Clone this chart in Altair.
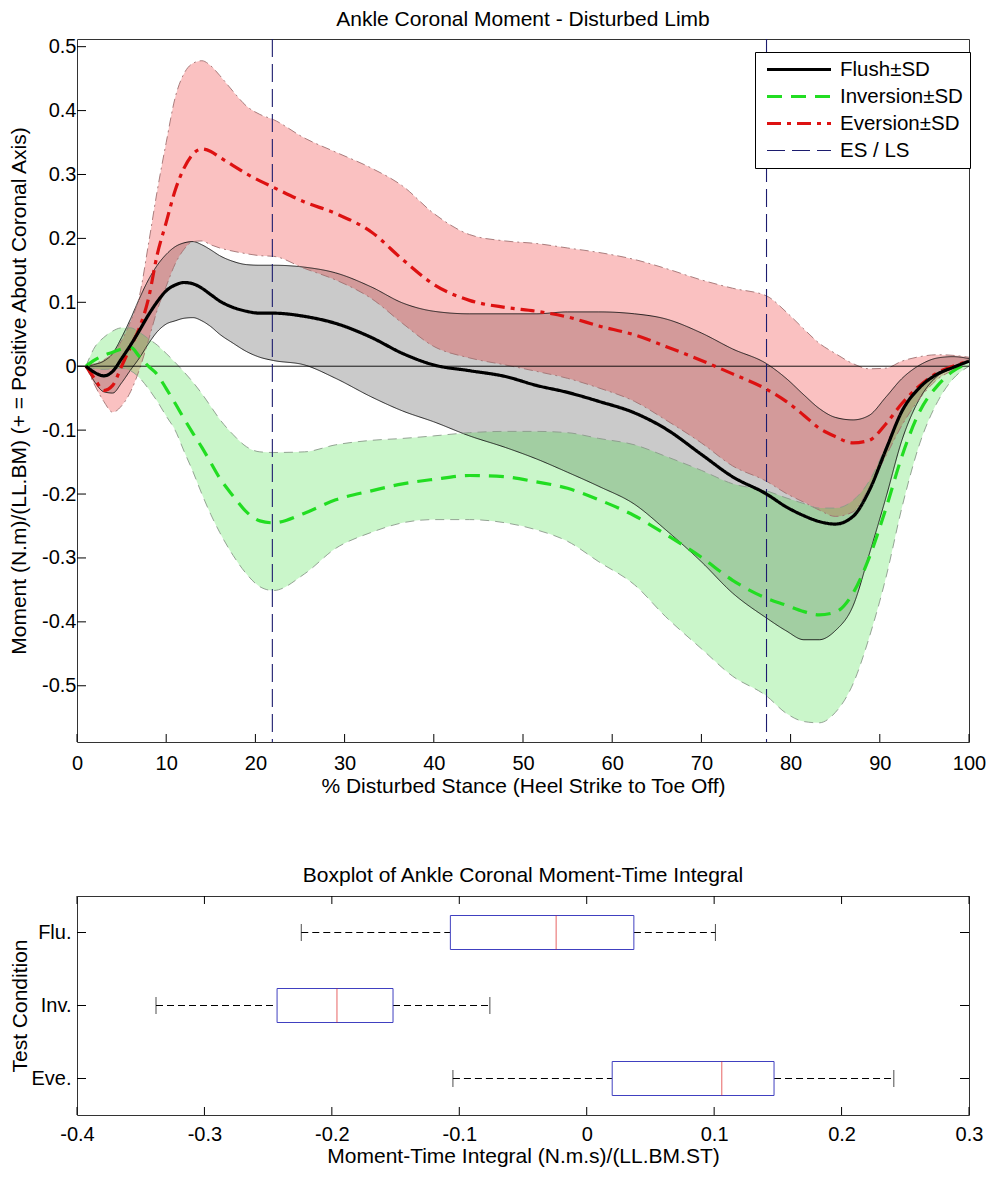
import altair as alt
import pandas as pd

FONT = "Liberation Sans, Arial, sans-serif"

# ---------------- top panel data ----------------
X = [1, 2, 3, 4, 5, 6, 7, 8, 9, 10, 11, 12, 13, 14, 15, 16, 17.5, 19, 20.5, 22,
     25.5, 29, 33, 36.5, 40, 44, 48, 51.5, 55, 58.5, 62.5, 66, 70, 73.5, 77.3,
     79.5, 81.5, 83.2, 85, 87, 88.8, 90.7, 92.5, 94.5, 96.5, 98.2, 100]

FLUSH_MEAN = [0.0, -0.010, -0.015, -0.008, 0.012, 0.033, 0.056, 0.080, 0.101, 0.118, 0.127, 0.131, 0.129, 0.122, 0.112, 0.102, 0.092, 0.086, 0.083, 0.083,
              0.078, 0.067, 0.045, 0.020, 0.002, -0.007, -0.016, -0.030, -0.041, -0.055, -0.073, -0.098, -0.138, -0.173, -0.200,
              -0.220, -0.234, -0.243, -0.247, -0.235, -0.195, -0.130, -0.070, -0.033, -0.012, -0.002, 0.008]
FLUSH_HI = [0.0, 0.003, 0.008, 0.020, 0.045, 0.074, 0.106, 0.135, 0.158, 0.175, 0.187, 0.193, 0.195, 0.190, 0.182, 0.173, 0.164, 0.159, 0.158, 0.158,
            0.155, 0.146, 0.124, 0.099, 0.086, 0.082, 0.082, 0.082, 0.085, 0.085, 0.082, 0.074, 0.052, 0.027, 0.004,
            -0.019, -0.045, -0.066, -0.080, -0.084, -0.077, -0.048, -0.019, 0.002, 0.013, 0.015, 0.012]
FLUSH_LO = [0.0, -0.025, -0.040, -0.042, -0.026, -0.006, 0.013, 0.035, 0.054, 0.066, 0.071, 0.075, 0.076, 0.071, 0.062, 0.050, 0.036, 0.023, 0.014, 0.009,
            0.002, -0.019, -0.048, -0.070, -0.087, -0.109, -0.127, -0.145, -0.166, -0.188, -0.216, -0.256, -0.306, -0.355, -0.394,
            -0.414, -0.428, -0.428, -0.414, -0.375, -0.295, -0.205, -0.115, -0.050, -0.015, -0.003, 0.008]

INV_MEAN = [0.0, 0.010, 0.017, 0.022, 0.027, 0.030, 0.015, 0.000, -0.013, -0.035, -0.058, -0.082, -0.105, -0.127, -0.151, -0.175, -0.203, -0.228, -0.242, -0.245,
            -0.230, -0.209, -0.195, -0.184, -0.177, -0.171, -0.173, -0.181, -0.191, -0.209, -0.234, -0.263, -0.299, -0.335, -0.363,
            -0.374, -0.384, -0.389, -0.385, -0.355, -0.300, -0.222, -0.140, -0.070, -0.030, -0.008, 0.005]
INV_HI = [0.0, 0.030, 0.045, 0.055, 0.060, 0.060, 0.053, 0.043, 0.033, 0.020, 0.006, -0.009, -0.025, -0.043, -0.063, -0.083, -0.107, -0.126, -0.134, -0.135,
          -0.134, -0.123, -0.116, -0.113, -0.109, -0.104, -0.102, -0.102, -0.104, -0.113, -0.123, -0.141, -0.163, -0.184, -0.195,
          -0.206, -0.215, -0.222, -0.222, -0.210, -0.180, -0.125, -0.070, -0.030, -0.010, -0.002, 0.008]
INV_LO = [0.0, -0.004, -0.005, -0.004, -0.003, -0.007, -0.018, -0.035, -0.055, -0.078, -0.100, -0.133, -0.165, -0.200, -0.232, -0.260, -0.296, -0.325, -0.345, -0.351,
          -0.325, -0.285, -0.260, -0.245, -0.240, -0.240, -0.245, -0.256, -0.274, -0.306, -0.342, -0.392, -0.442, -0.485, -0.516,
          -0.543, -0.556, -0.558, -0.542, -0.497, -0.425, -0.330, -0.220, -0.120, -0.055, -0.020, 0.000]

EVE_MEAN = [0.0, -0.020, -0.038, -0.030, 0.000, 0.030, 0.060, 0.105, 0.175, 0.225, 0.275, 0.310, 0.332, 0.340, 0.336, 0.327, 0.314, 0.301, 0.290, 0.280,
            0.257, 0.239, 0.210, 0.167, 0.128, 0.103, 0.092, 0.086, 0.077, 0.063, 0.049, 0.031, 0.009, -0.012, -0.036,
            -0.055, -0.077, -0.097, -0.110, -0.120, -0.116, -0.090, -0.058, -0.030, -0.010, 0.000, 0.008]
EVE_HI = [0.0, 0.004, 0.010, 0.020, 0.040, 0.070, 0.110, 0.190, 0.275, 0.350, 0.420, 0.458, 0.474, 0.478, 0.470, 0.455, 0.430, 0.407, 0.394, 0.386,
          0.357, 0.335, 0.310, 0.282, 0.239, 0.206, 0.196, 0.192, 0.185, 0.178, 0.167, 0.153, 0.135, 0.122, 0.110,
          0.085, 0.058, 0.036, 0.020, 0.004, -0.004, -0.003, 0.008, 0.015, 0.018, 0.017, 0.014]
EVE_LO = [0.0, -0.030, -0.055, -0.072, -0.062, -0.040, -0.005, 0.040, 0.088, 0.125, 0.160, 0.183, 0.195, 0.196, 0.190, 0.185, 0.180, 0.176, 0.173, 0.172,
          0.153, 0.135, 0.106, 0.067, 0.031, 0.013, 0.002, -0.008, -0.019, -0.034, -0.055, -0.084, -0.120, -0.156, -0.180,
          -0.199, -0.213, -0.225, -0.235, -0.228, -0.190, -0.140, -0.092, -0.050, -0.020, -0.006, 0.010]

SERIES = ["Flush±SD", "Inversion±SD", "Eversion±SD", "ES / LS"]
ES_LS = [21.9, 77.3]
Y_TICKS = [-0.5, -0.4, -0.3, -0.2, -0.1, 0.0, 0.1, 0.2, 0.3, 0.4, 0.5]
X_TICKS = [0, 10, 20, 30, 40, 50, 60, 70, 80, 90, 100]

# ---------------- bottom panel data ----------------
CATS = ["Flu.", "Inv.", "Eve."]
WLO = [-0.224, -0.338, -0.105]
Q1 = [-0.107, -0.243, 0.020]
MED = [-0.024, -0.196, 0.106]
Q3 = [0.037, -0.152, 0.147]
WHI = [0.101, -0.076, 0.241]
BX_TICKS = [-0.4, -0.3, -0.2, -0.1, 0.0, 0.1, 0.2, 0.3]

W, H = 892, 703
HB = 219

LBL = ("abs(datum.value) < 1e-9 ? '0' : (datum.value < 0 ? '-' + format(-datum.value, '.1f') "
       ": format(datum.value, '.1f'))")


def band_df(name, mean, lo, hi):
    return pd.DataFrame({"x": X, "mean": mean, "lo": lo, "hi": hi, "series": name})


flush = band_df(SERIES[0], FLUSH_MEAN, FLUSH_LO, FLUSH_HI)
inv = band_df(SERIES[1], INV_MEAN, INV_LO, INV_HI)
eve = band_df(SERIES[2], EVE_MEAN, EVE_LO, EVE_HI)

xs = alt.Scale(domain=[0, 100], nice=False, zero=False)
ys = alt.Scale(domain=[-0.588, 0.512], nice=False, zero=False)

x_axis = alt.Axis(values=X_TICKS, title="% Disturbed Stance (Heel Strike to Toe Off)", ticks=False, tickSize=0,
                  domain=False, labelPadding=11, format="d", labelFlush=False, labelOverlap=False, titlePadding=2)
y_axis = alt.Axis(values=Y_TICKS, title="Moment (N.m)/(LL.BM) (+ = Positive About Coronal Axis)", ticks=False,
                  tickSize=0, domain=False, labelPadding=1, labelExpr=LBL, labelFlush=False, labelOverlap=False,
                  titlePadding=12)


def XE(field):
    return alt.X(field, scale=xs, axis=x_axis)


def YE(field):
    return alt.Y(field, scale=ys, axis=y_axis)


band_style = {
    SERIES[0]: dict(fill="#808080", op=0.42, edge="#111111", dash=[1, 0]),
    SERIES[1]: dict(fill="#33dd33", op=0.26, edge="#8a9a8a", dash=[9, 6]),
    SERIES[2]: dict(fill="#ee2222", op=0.28, edge="#a07272", dash=[9, 4, 2, 4]),
}

layers = []
for df in (flush, eve, inv):
    st = band_style[df["series"].iloc[0]]
    layers.append(
        alt.Chart(df).mark_area(color=st["fill"], opacity=st["op"], interpolate="monotone").encode(
            x=XE("x:Q"), y=YE("lo:Q"), y2="hi:Q",
        )
    )

for df in (flush, eve, inv):
    st = band_style[df["series"].iloc[0]]
    layers.append(
        alt.Chart(df).transform_fold(["lo", "hi"], as_=["edge", "v"]).mark_line(
            color=st["edge"], strokeWidth=0.9, strokeDash=st["dash"], interpolate="monotone"
        ).encode(x=XE("x:Q"), y=YE("v:Q"), detail="edge:N")
    )

zero = alt.Chart(pd.DataFrame({"z": [0.0]})).mark_rule(color="black", strokeWidth=0.9).encode(y=YE("z:Q"))
layers.append(zero)

color_scale = alt.Scale(domain=SERIES, range=["#000000", "#22dd22", "#dd1111", "#1c1c6e"])
dash_scale = alt.Scale(domain=SERIES, range=[[1, 0], [15, 9], [14, 6, 4, 6], [18, 7]])
width_scale = alt.Scale(type="ordinal", domain=SERIES, range=[3.2, 3.2, 3.2, 1.1])
leg = alt.Legend(title=None, orient="none", legendX=678, legendY=13, symbolType="stroke", symbolSize=4096,
                 symbolOffset=3, labelFontSize=20.5, labelFont=FONT, labelColor="black", fillColor="white",
                 strokeColor="black", padding=7, rowPadding=6, labelOffset=7, labelLimit=300, clipHeight=21)

es = alt.Chart(pd.DataFrame({"x": ES_LS, "series": [SERIES[3]] * len(ES_LS)})).mark_rule().encode(
    x=XE("x:Q"),
    color=alt.Color("series:N", scale=color_scale, legend=leg),
    strokeDash=alt.StrokeDash("series:N", scale=dash_scale, legend=leg),
    strokeWidth=alt.StrokeWidth("series:N", scale=width_scale, legend=leg),
)
layers.append(es)

means = pd.concat([eve, inv, flush], ignore_index=True)
mean_lines = alt.Chart(means).mark_line(interpolate="monotone").encode(
    x=XE("x:Q"),
    y=YE("mean:Q"),
    color=alt.Color("series:N", scale=color_scale, legend=leg),
    strokeDash=alt.StrokeDash("series:N", scale=dash_scale, legend=leg),
    strokeWidth=alt.StrokeWidth("series:N", scale=width_scale, legend=leg),
    order=alt.Order("x:Q"),
)
layers.append(mean_lines)

ytick = alt.Chart(pd.DataFrame({"t": Y_TICKS})).mark_rule(color="black", strokeWidth=1).encode(
    y=YE("t:Q"), x=alt.value(0), x2=alt.value(9))
xtick = alt.Chart(pd.DataFrame({"t": X_TICKS})).mark_rule(color="black", strokeWidth=1).encode(
    x=XE("t:Q"), y=alt.value(H), y2=alt.value(H - 8))
layers += [ytick, xtick]

top = alt.layer(*layers).properties(
    width=W, height=H,
    title=alt.TitleParams("Ankle Coronal Moment - Disturbed Limb", offset=7),
)

# ---------------- bottom: boxplot ----------------
box = pd.DataFrame({"cond": CATS, "wlo": WLO, "q1": Q1, "med": MED, "q3": Q3, "whi": WHI})
bxs = alt.Scale(domain=[-0.4, 0.3], nice=False, zero=False)
bys = alt.Scale(domain=CATS, paddingInner=0, paddingOuter=0)
bx_axis = alt.Axis(values=BX_TICKS, title="Moment-Time Integral (N.m.s)/(LL.BM.ST)", ticks=False, tickSize=0,
                   domain=False, labelPadding=9, labelExpr=LBL, labelFlush=False, labelOverlap=False, titlePadding=1)
by_axis = alt.Axis(title="Test Condition", ticks=False, tickSize=0, domain=False, labelPadding=6, titlePadding=0)


def BX(field):
    return alt.X(field, scale=bxs, axis=bx_axis)


def BY(field):
    return alt.Y(field, scale=bys, axis=by_axis)


base = alt.Chart(box)
wl = base.mark_rule(color="black", strokeDash=[7, 4], strokeWidth=1).encode(x=BX("wlo:Q"), x2="q1:Q", y=BY("cond:N"))
wh = base.mark_rule(color="black", strokeDash=[7, 4], strokeWidth=1).encode(x=BX("q3:Q"), x2="whi:Q", y=BY("cond:N"))
bx = base.mark_bar(size=34, fill="white", stroke="#4040c0", strokeWidth=1).encode(x=BX("q1:Q"), x2="q3:Q", y=BY("cond:N"))
md = base.mark_tick(size=34, thickness=1, color="#dd2222").encode(x=BX("med:Q"), y=BY("cond:N"))
cl = base.mark_tick(size=17, thickness=1, color="black").encode(x=BX("wlo:Q"), y=BY("cond:N"))
ch = base.mark_tick(size=17, thickness=1, color="black").encode(x=BX("whi:Q"), y=BY("cond:N"))

bt = pd.DataFrame({"t": BX_TICKS})
bxt_top = alt.Chart(bt).mark_rule(color="black").encode(x=BX("t:Q"), y=alt.value(0), y2=alt.value(8))
bxt_bot = alt.Chart(bt).mark_rule(color="black").encode(x=BX("t:Q"), y=alt.value(HB), y2=alt.value(HB - 8))
ct = pd.DataFrame({"cond": CATS})
byt_l = alt.Chart(ct).mark_rule(color="black").encode(y=BY("cond:N"), x=alt.value(0), x2=alt.value(9))
byt_r = alt.Chart(ct).mark_rule(color="black").encode(y=BY("cond:N"), x=alt.value(W), x2=alt.value(W - 9))

bottom = alt.layer(wl, wh, bx, md, cl, ch, bxt_top, bxt_bot, byt_l, byt_r).properties(
    width=W, height=HB,
    title=alt.TitleParams("Boxplot of Ankle Coronal Moment-Time Integral", offset=10),
)

chart = alt.vconcat(top, bottom, spacing=67).resolve_scale(
    color="independent", strokeDash="independent", strokeWidth="independent"
).properties(
    padding={"left": 0, "top": 0, "right": 0, "bottom": 0}
).configure_axis(
    labelFont=FONT, titleFont=FONT, labelFontSize=20, titleFontSize=21, titleFontWeight="normal",
    labelColor="black", titleColor="black", grid=False,
).configure_title(
    font=FONT, fontSize=21, fontWeight="normal", color="black", anchor="middle",
).configure_view(
    stroke="#333333", strokeWidth=1,
)

chart.save("out.html", embed_options={"renderer": "svg", "actions": False})
